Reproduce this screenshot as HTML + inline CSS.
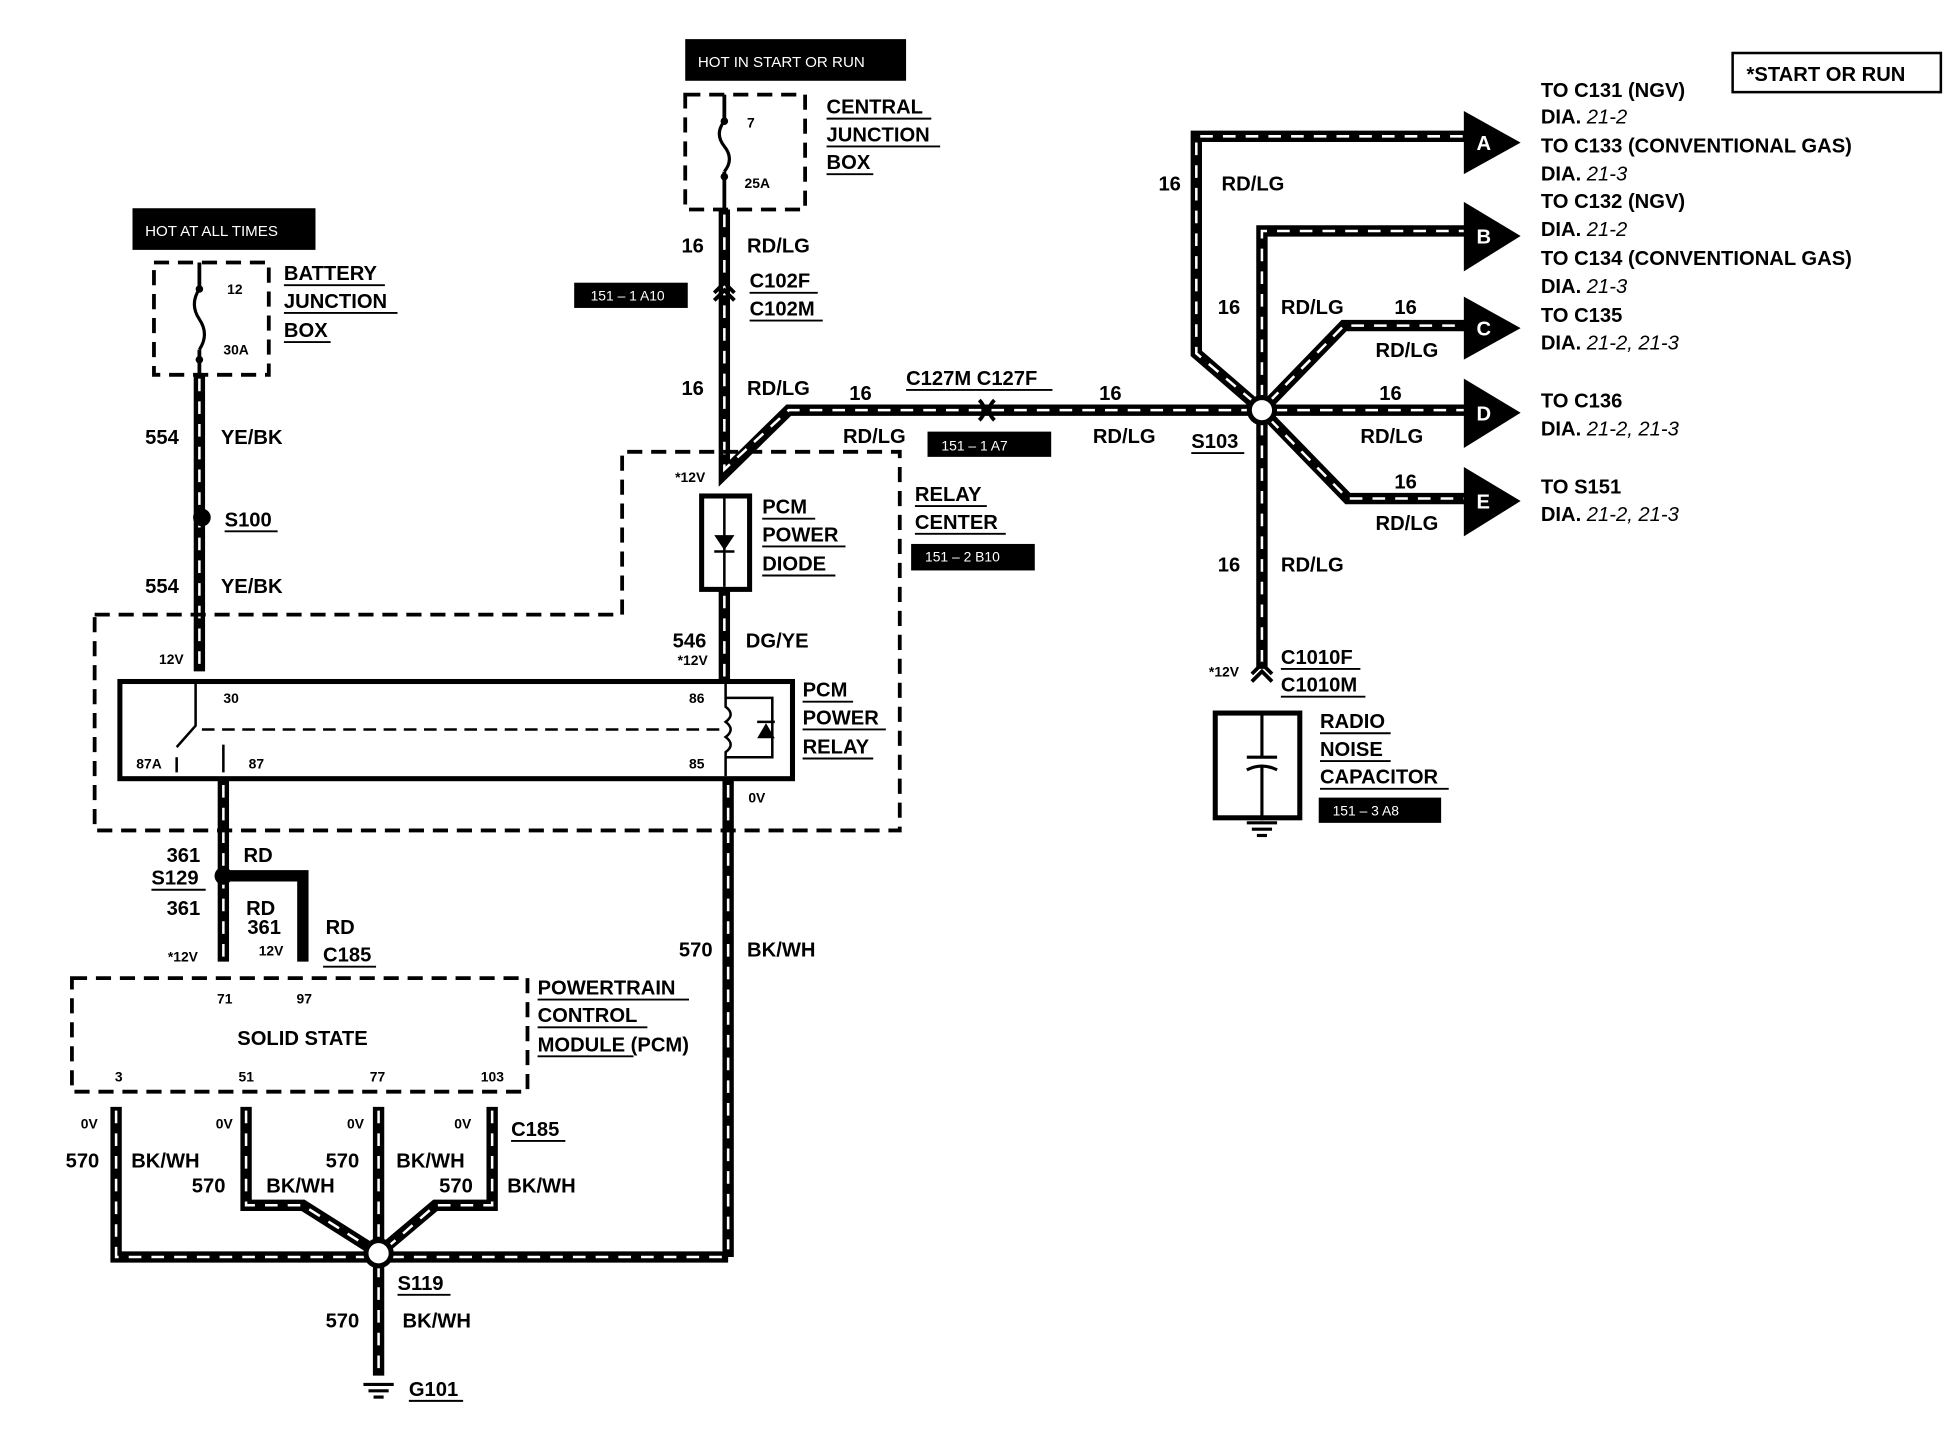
<!DOCTYPE html>
<html><head><meta charset="utf-8"><style>
html,body{margin:0;padding:0;background:#fff}
svg{display:block}
text{font-family:"Liberation Sans",Arial,sans-serif;font-weight:bold;font-size:16px;fill:#000}
.s{font-size:11px}
.w{fill:#fff;font-weight:normal;font-size:12px}
.i{font-style:italic;font-weight:normal}
</style></head><body>
<svg width="1956" height="1440" viewBox="0 0 1550 1141" preserveAspectRatio="none" xmlns="http://www.w3.org/2000/svg">
<defs>
<g id="d"></g>
</defs>
<!-- wires: black thick + white dashes -->
<g fill="none" stroke-linejoin="miter">
<g stroke="#000" stroke-width="9">
<path d="M574 166V375L625 325H1000"/>
<path d="M1000 325L948 280V108H1165"/>
<path d="M1000 325V183H1165"/>
<path d="M1000 325L1065 258H1165"/>
<path d="M1000 325H1165"/>
<path d="M1000 325L1068 395H1165"/>
<path d="M1000 325V530"/>
<path d="M158 297V532"/>
<path d="M574 467V540"/>
<path d="M177 617V762"/>
<path d="M177 694H240V762"/>
<path d="M577 617V996"/>
<path d="M92 877V996H577"/>
<path d="M195 877V955H240L300 993"/>
<path d="M300 877V1090"/>
<path d="M390 877V955H345L300 993"/>
</g>
<g stroke="#fff" stroke-width="2" stroke-dasharray="10 8">
<path d="M574 170V372L625 325H992"/>
<path d="M993 318L948 280V108H1160"/>
<path d="M1000 315V183H1160"/>
<path d="M1006 318L1065 258H1160"/>
<path d="M1010 325H1160"/>
<path d="M1006 332L1068 395H1160"/>
<path d="M1000 335V525"/>
<path d="M158 300V530"/>
<path d="M574 472V536"/>
<path d="M177 622V758"/>
<path d="M577 622V990"/>
<path d="M92 880V996H290"/>
<path d="M310 996H577"/>
<path d="M195 880V955H240L295 990"/>
<path d="M300 880V985"/>
<path d="M300 1002V1088"/>
<path d="M390 880V955H345L305 990"/>
</g>
</g>
<!-- arrows -->
<g fill="#000">
<polygon points="1160,88 1205,113 1160,138"/>
<polygon points="1160,160 1205,187 1160,215"/>
<polygon points="1160,235 1205,260 1160,285"/>
<polygon points="1160,300 1205,327 1160,355"/>
<polygon points="1160,370 1205,397 1160,425"/>
</g>
<g fill="#fff" style="font-size:15px"><text x="1170" y="119" fill="#fff" style="fill:#fff">A</text><text x="1170" y="193" style="fill:#fff">B</text><text x="1170" y="266" style="fill:#fff">C</text><text x="1170" y="333" style="fill:#fff">D</text><text x="1170" y="403" style="fill:#fff">E</text></g>
<!-- splices -->
<circle cx="1000" cy="325" r="10" fill="#fff" stroke="#000" stroke-width="4"/>
<circle cx="300" cy="993" r="10" fill="#fff" stroke="#000" stroke-width="4"/>
<circle cx="160" cy="410" r="7" fill="#000"/>
<circle cx="177" cy="694" r="7" fill="#000"/>
<!-- connectors -->
<g fill="none" stroke="#000" stroke-width="3">
<path d="M566 232L574 224L582 232M566 238L574 230L582 238"/>
<path d="M776 317Q784 325 776 333M788 317Q780 325 788 333"/>
<path d="M992 534L1000 526L1008 534M992 540L1000 532L1008 540"/>
</g>
<!-- black boxes -->
<g fill="#000">
<rect x="543" y="31" width="175" height="33"/>
<rect x="105" y="165" width="145" height="33"/>
<rect x="455" y="224" width="90" height="20"/>
<rect x="735" y="342" width="98" height="20"/>
<rect x="722" y="431" width="98" height="21"/>
<rect x="1045" y="632" width="97" height="20"/>
</g>
<text class="w" x="553" y="53">HOT IN  START OR RUN</text>
<text class="w" x="115" y="187">HOT AT ALL TIMES</text>
<text class="w" x="468" y="238" style="font-size:11px">151 – 1 A10</text>
<text class="w" x="746" y="357" style="font-size:11px">151 – 1 A7</text>
<text class="w" x="733" y="445" style="font-size:11px">151 – 2 B10</text>
<text class="w" x="1056" y="646" style="font-size:11px">151 – 3 A8</text>
<rect x="1373" y="42" width="165" height="31" fill="none" stroke="#000" stroke-width="2"/>
<text x="1384" y="64">*START OR RUN</text>
<!-- dashed boxes -->
<g fill="none" stroke="#000" stroke-width="3" stroke-dasharray="12 7">
<rect x="543" y="75" width="95" height="91"/>
<rect x="122" y="208" width="91" height="89"/>
<path d="M75 487H493V358H713V658H75Z"/>
<rect x="57" y="775" width="361" height="90"/>
</g>
<!-- fuses -->
<g fill="none" stroke="#000" stroke-width="2.5">
<path d="M574 96Q566 106 574 116Q582 126 574 136"/>
<path d="M158 229Q150 241 158 253Q166 265 158 277"/>
</g>
<line x1="574" y1="75" x2="574" y2="96" stroke="#000" stroke-width="3"/>
<line x1="574" y1="136" x2="574" y2="166" stroke="#000" stroke-width="3"/>
<line x1="158" y1="208" x2="158" y2="229" stroke="#000" stroke-width="3"/>
<line x1="158" y1="277" x2="158" y2="297" stroke="#000" stroke-width="3"/>
<circle cx="574" cy="96" r="3"/><circle cx="574" cy="140" r="3"/><circle cx="158" cy="229" r="3"/><circle cx="158" cy="285" r="3"/>
<!-- diode -->
<rect x="556" y="393" width="38" height="74" fill="#fff" stroke="#000" stroke-width="4"/>
<line x1="574" y1="395" x2="574" y2="465" stroke="#000" stroke-width="2"/>
<polygon points="566,424 582,424 574,436" fill="#000"/><line x1="566" y1="437" x2="582" y2="437" stroke="#000" stroke-width="2"/>
<!-- relay -->
<rect x="95" y="540" width="533" height="77" fill="none" stroke="#000" stroke-width="4"/>
<line x1="160" y1="578" x2="570" y2="578" stroke="#000" stroke-width="2" stroke-dasharray="10 6"/>
<g fill="none" stroke="#000" stroke-width="2">
<path d="M155 542V575L140 592M140 600V612M177 590V612M575 542V560Q583 566 575 572Q583 578 575 584Q583 590 575 596V615M575 553H612V600H575"/>
</g>
<polygon points="600,585 614,585 607,573" fill="#000"/><line x1="600" y1="572" x2="614" y2="572" stroke="#000" stroke-width="2"/>
<!-- capacitor -->
<rect x="963" y="565" width="67" height="83" fill="none" stroke="#000" stroke-width="4"/>
<g stroke="#000" stroke-width="2.5"><line x1="1000" y1="565" x2="1000" y2="600"/><line x1="988" y1="600" x2="1012" y2="600"/><path d="M988 610Q1000 604 1012 610" fill="none"/><line x1="1000" y1="607" x2="1000" y2="650"/>
<line x1="988" y1="652" x2="1012" y2="652"/><line x1="992" y1="657" x2="1008" y2="657"/><line x1="996" y1="662" x2="1004" y2="662"/>
<line x1="288" y1="1097" x2="312" y2="1097"/><line x1="292" y1="1102" x2="308" y2="1102"/><line x1="296" y1="1107" x2="304" y2="1107"/></g>
<!-- labels -->
<g>
<text x="655" y="90">CENTRAL</text><text x="655" y="112">JUNCTION</text><text x="655" y="134">BOX</text>
<text class="s" x="592" y="101">7</text><text class="s" x="590" y="149">25A</text>
<text x="225" y="222">BATTERY</text><text x="225" y="244">JUNCTION</text><text x="225" y="267">BOX</text>
<text class="s" x="180" y="233">12</text><text class="s" x="177" y="281">30A</text>
<text x="540" y="200">16</text><text x="592" y="200">RD/LG</text>
<text x="594" y="228">C102F</text><text x="594" y="250">C102M</text>
<text x="540" y="313">16</text><text x="592" y="313">RD/LG</text>
<text x="673" y="317">16</text><text x="668" y="351">RD/LG</text>
<text x="718" y="305">C127M C127F</text>
<text x="871" y="317">16</text><text x="866" y="351">RD/LG</text>
<text x="944" y="355">S103</text>
<text x="918" y="151">16</text><text x="968" y="151">RD/LG</text>
<text x="965" y="249">16</text><text x="1015" y="249">RD/LG</text>
<text x="1105" y="249">16</text><text x="1090" y="283">RD/LG</text>
<text x="1093" y="317">16</text><text x="1078" y="351">RD/LG</text>
<text x="1105" y="387">16</text><text x="1090" y="420">RD/LG</text>
<text x="965" y="453">16</text><text x="1015" y="453">RD/LG</text>
<text class="s" x="958" y="536">*12V</text>
<text x="1015" y="526">C1010F</text><text x="1015" y="548">C1010M</text>
<text x="1046" y="577">RADIO</text><text x="1046" y="599">NOISE</text><text x="1046" y="621">CAPACITOR</text>
<text x="1221" y="77">TO C131 (NGV)</text><text x="1221" y="98">DIA.  <tspan class="i">21-2</tspan></text>
<text x="1221" y="121">TO C133 (CONVENTIONAL GAS)</text><text x="1221" y="143">DIA.  <tspan class="i">21-3</tspan></text>
<text x="1221" y="165">TO C132 (NGV)</text><text x="1221" y="187">DIA.  <tspan class="i">21-2</tspan></text>
<text x="1221" y="210">TO C134 (CONVENTIONAL GAS)</text><text x="1221" y="232">DIA.  <tspan class="i">21-3</tspan></text>
<text x="1221" y="255">TO C135</text><text x="1221" y="277">DIA. <tspan class="i">21-2, 21-3</tspan></text>
<text x="1221" y="323">TO C136</text><text x="1221" y="345">DIA. <tspan class="i">21-2, 21-3</tspan></text>
<text x="1221" y="391">TO S151</text><text x="1221" y="413">DIA. <tspan class="i">21-2, 21-3</tspan></text>
<text x="115" y="352">554</text><text x="175" y="352">YE/BK</text>
<text x="178" y="417">S100</text>
<text x="115" y="470">554</text><text x="175" y="470">YE/BK</text>
<text class="s" x="126" y="526">12V</text>
<text x="725" y="397">RELAY</text><text x="725" y="419">CENTER</text>
<text class="s" x="535" y="382">*12V</text>
<text x="604" y="407">PCM</text><text x="604" y="429">POWER</text><text x="604" y="452">DIODE</text>
<text x="533" y="513">546</text><text x="591" y="513">DG/YE</text>
<text class="s" x="537" y="527">*12V</text>
<text class="s" x="177" y="557">30</text><text class="s" x="546" y="557">86</text>
<text class="s" x="108" y="609">87A</text><text class="s" x="197" y="609">87</text><text class="s" x="546" y="609">85</text>
<text x="636" y="552">PCM</text><text x="636" y="574">POWER</text><text x="636" y="597">RELAY</text>
<text class="s" x="593" y="636">0V</text>
<text x="132" y="683">361</text><text x="193" y="683">RD</text>
<text x="120" y="701">S129</text>
<text x="132" y="725">361</text><text x="195" y="725">RD</text><text x="196" y="740">361</text>
<text class="s" x="205" y="757">12V</text>
<text x="258" y="740">RD</text><text x="256" y="762">C185</text>
<text class="s" x="133" y="762">*12V</text>
<text x="538" y="758">570</text><text x="592" y="758">BK/WH</text>
<text class="s" x="172" y="795">71</text><text class="s" x="235" y="795">97</text>
<text x="188" y="828">SOLID STATE</text>
<text class="s" x="91" y="857">3</text><text class="s" x="189" y="857">51</text><text class="s" x="293" y="857">77</text><text class="s" x="381" y="857">103</text>
<text x="426" y="788">POWERTRAIN</text><text x="426" y="810">CONTROL</text><text x="426" y="833">MODULE (PCM)</text>
<text class="s" x="64" y="894">0V</text><text class="s" x="171" y="894">0V</text><text class="s" x="275" y="894">0V</text><text class="s" x="360" y="894">0V</text>
<text x="405" y="900">C185</text>
<text x="52" y="925">570</text><text x="104" y="925">BK/WH</text>
<text x="152" y="945">570</text><text x="211" y="945">BK/WH</text>
<text x="258" y="925">570</text><text x="314" y="925">BK/WH</text>
<text x="348" y="945">570</text><text x="402" y="945">BK/WH</text>
<text x="315" y="1022">S119</text>
<text x="258" y="1052">570</text><text x="319" y="1052">BK/WH</text>
<text x="324" y="1106">G101</text>
</g>
<!-- underlines -->
<g stroke="#000" stroke-width="1.5">
<line x1="655" y1="94" x2="738" y2="94"/><line x1="655" y1="116" x2="745" y2="116"/><line x1="655" y1="138" x2="692" y2="138"/>
<line x1="225" y1="226" x2="305" y2="226"/><line x1="225" y1="248" x2="315" y2="248"/><line x1="225" y1="271" x2="262" y2="271"/>
<line x1="594" y1="232" x2="648" y2="232"/><line x1="594" y1="254" x2="652" y2="254"/>
<line x1="718" y1="309" x2="834" y2="309"/><line x1="944" y1="359" x2="986" y2="359"/>
<line x1="1015" y1="530" x2="1078" y2="530"/><line x1="1015" y1="552" x2="1082" y2="552"/>
<line x1="1046" y1="581" x2="1102" y2="581"/><line x1="1046" y1="603" x2="1102" y2="603"/><line x1="1046" y1="625" x2="1148" y2="625"/>
<line x1="178" y1="421" x2="220" y2="421"/>
<line x1="725" y1="401" x2="782" y2="401"/><line x1="725" y1="423" x2="797" y2="423"/>
<line x1="604" y1="411" x2="646" y2="411"/><line x1="604" y1="433" x2="670" y2="433"/><line x1="604" y1="456" x2="662" y2="456"/>
<line x1="636" y1="556" x2="676" y2="556"/><line x1="636" y1="578" x2="702" y2="578"/><line x1="636" y1="601" x2="692" y2="601"/>
<line x1="120" y1="705" x2="163" y2="705"/><line x1="256" y1="766" x2="298" y2="766"/>
<line x1="426" y1="792" x2="546" y2="792"/><line x1="426" y1="814" x2="513" y2="814"/><line x1="426" y1="837" x2="502" y2="837"/>
<line x1="405" y1="904" x2="448" y2="904"/><line x1="315" y1="1026" x2="357" y2="1026"/><line x1="324" y1="1110" x2="367" y2="1110"/>
</g>
</svg>
</body></html>
